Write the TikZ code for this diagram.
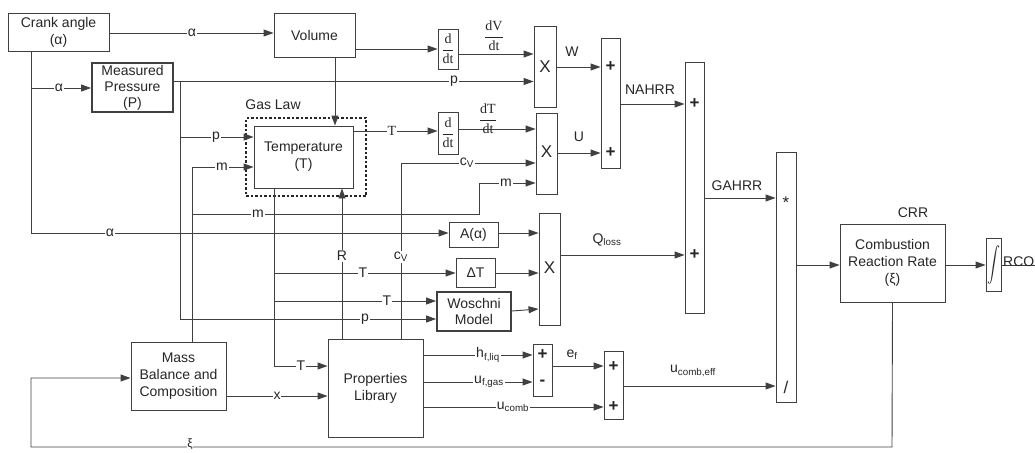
\documentclass[tikz,border=0pt]{standalone}
\usepackage{fontspec}
\usepackage{graphicx}
\setmainfont{Liberation Sans}
\newfontfamily\seriffont{Liberation Serif}
\usetikzlibrary{arrows.meta}
\begin{document}
\begin{tikzpicture}[x=1pt,y=-1pt,
  every node/.style={font=\fontsize{14}{17}\selectfont, text=black!85},
  blk/.style={draw=black!75, line width=0.9pt, align=center, inner sep=0pt},
  thk/.style={blk, line width=1.8pt},
  ln/.style={draw=black!75, line width=0.9pt},
  arr/.style={ln, -{Triangle[length=10pt,width=7pt]}},
  lab/.style={fill=white, inner sep=0.8pt},
  ablab/.style={inner sep=0pt},
  sgn/.style={inner sep=0pt, font=\fontsize{17}{17}\selectfont\bfseries},
  xs/.style={inner sep=0pt, font=\fontsize{17}{17}\selectfont},
  frac/.style={inner sep=0pt, font=\fontsize{14}{16}\selectfont\seriffont}]
\useasboundingbox (0,0) rectangle (1035,452);

% ---------- blocks ----------
\node[blk,minimum width=101pt,minimum height=38pt] (crank) at (58.5,32) {Crank angle\\(α)};
\node[blk,minimum width=81pt,minimum height=44pt] (volume) at (314.5,35) {Volume};
\node[thk,minimum width=81pt,minimum height=49pt] (mp) at (132.5,87.5) {Measured\\[-1pt]Pressure\\[-1pt](P)};
\node[blk,minimum width=99pt,minimum height=62pt] (temp) at (303.5,157) {Temperature\\(T)};
\node[draw=black!85, line width=1.4pt, dash pattern=on 2.5pt off 2pt, minimum width=120pt, minimum height=78pt, inner sep=0pt] (gas) at (306,157) {};
\node[ablab] (gaslbl) at (273,105) {Gas Law};
\node[blk,minimum width=20pt,minimum height=40pt] (ddt1) at (448,49) {};
\node[frac] (ddt1t) at (ddt1) {$\displaystyle\frac{\mbox{d}}{\mbox{dt}}$};
\node[blk,minimum width=22pt,minimum height=81pt] (x1) at (545,66.5) {};
\node[xs] (x1t) at (545,67) {X};
\node[blk,minimum width=19pt,minimum height=130pt] (sum1) at (610.5,103) {};
\node[sgn] (sum1a) at (610.5,67) {+};
\node[sgn] (sum1b) at (610.5,153) {+};
\node[blk,minimum width=20pt,minimum height=42pt] (ddt2) at (448,133) {};
\node[frac] (ddt2t) at (ddt2) {$\displaystyle\frac{\mbox{d}}{\mbox{dt}}$};
\node[blk,minimum width=21pt,minimum height=81pt] (x2) at (546.5,153.5) {};
\node[xs] (x2t) at (546.5,152) {X};
\node[blk,minimum width=19pt,minimum height=251pt] (sum2) at (694.5,187.5) {};
\node[sgn] (sum2a) at (694.5,104) {+};
\node[sgn] (sum2b) at (694.5,255) {+};
\node[blk,minimum width=20pt,minimum height=250pt] (div) at (786,277) {};
\node[xs] (divm) at (786,203) {*};
\node[xs] (divd) at (786,387) {/};
\node[blk,minimum width=105pt,minimum height=78pt] (crr) at (892.5,263) {Combustion\\Reaction Rate\\(ξ)};
\node[ablab] (crrlbl) at (913,213) {CRR};
\node[blk,minimum width=15pt,minimum height=53pt] (integ) at (993.5,264.5) {};
\node[inner sep=0pt] (integt) at (integ) {\scalebox{1.3}[1.75]{$\displaystyle\int$}};
\node[blk,minimum width=49pt,minimum height=25pt] (aa) at (473.5,234.5) {A(α)};
\node[blk,minimum width=39pt,minimum height=29pt] (dT) at (475.5,272.5) {ΔT};
\node[thk,minimum width=74pt,minimum height=39pt] (wosch) at (474,311.5) {Woschni\\[-1pt]Model};
\node[blk,minimum width=21pt,minimum height=112pt] (x3) at (549.5,269) {};
\node[xs] (x3t) at (549.5,268) {X};
\node[blk,minimum width=95pt,minimum height=68pt] (mass) at (178.5,376) {Mass\\Balance and\\Composition};
\node[blk,minimum width=95pt,minimum height=98pt] (props) at (375.5,388) {Properties\\Library};
\node[blk,minimum width=19pt,minimum height=52pt] (sum3) at (542.5,370) {};
\node[sgn] (sum3a) at (542.5,355) {+};
\node[sgn] (sum3b) at (542.5,383) {-};
\node[blk,minimum width=19pt,minimum height=68pt] (sum4) at (613.5,385) {};
\node[sgn] (sum4a) at (613.5,367) {+};
\node[sgn] (sum4b) at (613.5,407) {+};
\coordinate (rcoend) at (1035,265);

% ---------- connectors ----------
\draw[arr] (crank.east |- 0,33) -- (volume.west |- 0,33);
\draw[arr] (crank.south -| 31,0) -- (31,233) -- (aa.west |- 0,233);
\draw[arr] (31,88) -- (mp.west |- 0,88);
\draw[arr] (mp.east |- 0,81.5) -- (x1.west |- 0,81.5);
\draw[arr] (180,81.5) -- (180,319) -- (wosch.west |- 0,319);
\draw[arr] (180,137) -- (temp.west |- 0,137);
\draw[arr] (mass.north -| 192,0) -- (192,167) -- (temp.west |- 0,167);
\draw[arr] (192,214) -- (479,214) -- (479,183) -- (x2.west |- 0,183);
\draw[arr] (volume.south -| 335,0) -- (temp.north -| 335,0);
\draw[arr] (volume.east |- ddt1.west) -- (ddt1.west);
\draw[arr] (ddt1.east |- 0,54) -- (x1.west |- 0,54);
\draw[arr] (x1.east |- 0,67) -- (sum1.west |- 0,67);
\draw[arr] (temp.east |- 0,131) -- (ddt2.west |- 0,131);
\draw[arr] (ddt2.east |- 0,129) -- (x2.west |- 0,129);
\draw[arr] (x2.east |- 0,153) -- (sum1.west |- 0,153);
\draw[arr] (props.north -| 401,0) -- (401,163) -- (x2.west |- 0,163);
\draw[arr] (props.north -| 342,0) -- (temp.south -| 342,0);
\draw[arr] (temp.south -| 274,0) -- (274,366) -- (props.west |- 0,366);
\draw[arr] (274,273) -- (dT.west |- 0,273);
\draw[arr] (274,301) -- (wosch.west |- 0,301);
\draw[arr] (aa.east |- 0,233) -- (x3.west |- 0,233);
\draw[arr] (dT.east |- 0,273) -- (x3.west |- 0,273);
\draw[arr] (wosch.east |- 0,311) -- (x3.west |- 0,309);
\draw[arr] (x3.east |- 0,255) -- (sum2.west |- 0,255);
\draw[arr] (sum1.east |- 0,104) -- (sum2.west |- 0,104);
\draw[arr] (sum2.east |- 0,198) -- (div.west |- 0,198);
\draw[arr] (div.east |- 0,265) -- (crr.west |- 0,265);
\draw[arr] (crr.east |- 0,265) -- (integ.west |- 0,265);
\draw[ln] (integ.east |- 0,265) -- (rcoend);
\draw[arr] (crr.south) -- (892,447) -- (31,447) -- (31,378) -- (mass.west |- 0,378);
\draw[arr] (mass.east |- 0,396) -- (props.west |- 0,396);
\draw[arr] (props.east |- 0,355) -- (sum3.west |- 0,355);
\draw[arr] (props.east |- 0,382) -- (sum3.west |- 0,382);
\draw[arr] (props.east |- 0,407) -- (sum4.west |- 0,407);
\draw[arr] (sum3.east |- 0,366) -- (sum4.west |- 0,366);
\draw[arr] (sum4.east |- 0,386) -- (div.west |- 0,386);

% ---------- labels ----------
\node[lab] (l1) at (192,33) {α};
\node[lab] (l2) at (110,233) {α};
\node[lab] (l3) at (59,88) {α};
\node[lab] (l4) at (454,81.5) {p};
\node[lab] (l5) at (365,319) {p};
\node[lab] (l6) at (216,137) {p};
\node[lab] (l7) at (222,167) {m};
\node[lab] (l8) at (258,214) {m};
\node[lab] (l9) at (506,183) {m};
\node[frac] (l10) at (494,36) {$\displaystyle\frac{\mbox{dV}}{\mbox{dt}}$};
\node[ablab] (l11) at (572,52) {W};
\node[lab,font=\fontsize{14}{16}\selectfont\seriffont] (l12) at (392,131) {T};
\node[frac] (l13) at (488,119) {$\displaystyle\frac{\mbox{dT}}{\mbox{dt}}$};
\node[ablab] (l14) at (579,137) {U};
\node[lab] (l15) at (467,163) {c\textsubscript{V}};
\node[lab] (l16) at (401,257) {c\textsubscript{V}};
\node[lab] (l17) at (342,256) {R};
\node[lab] (l18) at (301,366) {T};
\node[lab] (l19) at (363,273) {T};
\node[lab] (l20) at (387,301) {T};
\node[ablab] (l21) at (607,240) {Q\textsubscript{loss}};
\node[ablab] (l22) at (650,90) {NAHRR};
\node[ablab] (l23) at (737,186) {GAHRR};
\node[ablab,anchor=south west] (l24) at (1003,267) {RCO};
\node[lab,inner sep=0.5pt,font=\fontsize{12}{12}\selectfont] (l25) at (190,444.5) {ξ};
\node[lab] (l26) at (277,396) {x};
\node[lab] (l27) at (488,355) {h\textsubscript{f,liq}};
\node[lab] (l28) at (489,382) {u\textsubscript{f,gas}};
\node[lab] (l29) at (513,407) {u\textsubscript{comb}};
\node[ablab] (l30) at (572,355) {e\textsubscript{f}};
\node[ablab] (l31) at (693,371) {u\textsubscript{comb,eff}};
\end{tikzpicture}
\end{document}
